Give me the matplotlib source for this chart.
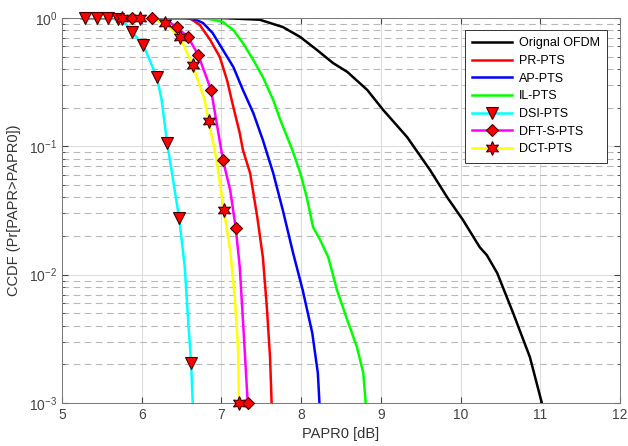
import matplotlib
matplotlib.use("Agg")
import matplotlib.pyplot as plt
from matplotlib.ticker import LogLocator, NullFormatter, FixedLocator
from matplotlib.lines import Line2D

plt.rcParams['font.family'] = ['Liberation Sans', 'DejaVu Sans']

# ---- data ----
orig_x = [5.25, 7.0, 7.48, 7.77, 7.99, 8.20, 8.40, 8.58, 8.83, 9.03, 9.33, 9.62, 9.83, 10.03, 10.24, 10.33, 10.46, 10.66, 10.87, 11.02]
orig_y = [1.0, 1.0, 0.97, 0.851, 0.711, 0.563, 0.446, 0.38, 0.275, 0.192, 0.118, 0.065, 0.0403, 0.0267, 0.0164, 0.0142, 0.0103, 0.00502, 0.00228, 0.001]

pr_x = [5.25, 6.5, 6.61, 6.73, 6.86, 6.98, 7.07, 7.15, 7.23, 7.27, 7.36, 7.45, 7.52, 7.57, 7.61, 7.63]
pr_y = [1.0, 1.0, 0.99, 0.882, 0.674, 0.497, 0.329, 0.202, 0.127, 0.0936, 0.0619, 0.0281, 0.0137, 0.00559, 0.00228, 0.001]

ap_x = [5.25, 6.55, 6.68, 6.77, 6.89, 7.02, 7.15, 7.27, 7.40, 7.52, 7.65, 7.77, 7.90, 8.02, 8.14, 8.21, 8.23]
ap_y = [1.0, 1.0, 0.97, 0.914, 0.764, 0.563, 0.415, 0.275, 0.182, 0.112, 0.0619, 0.0319, 0.0147, 0.00758, 0.00351, 0.00171, 0.001]

il_x = [5.25, 6.75, 6.9, 7.02, 7.15, 7.27, 7.40, 7.52, 7.65, 7.74, 7.89, 7.99, 8.07, 8.15, 8.24, 8.34, 8.45, 8.58, 8.70, 8.78, 8.81]
il_y = [1.0, 1.0, 0.97, 0.93, 0.806, 0.638, 0.471, 0.347, 0.23, 0.16, 0.0936, 0.0619, 0.0403, 0.0235, 0.0186, 0.0137, 0.00758, 0.00442, 0.00273, 0.00171, 0.001]

dsi_x = [5.25, 5.44, 5.58, 5.70, 5.80, 5.88, 6.02, 6.19, 6.25, 6.32, 6.47, 6.54, 6.58, 6.62, 6.64]
dsi_y = [1.0, 1.0, 1.0, 0.97, 0.9, 0.778, 0.616, 0.347, 0.23, 0.106, 0.0276, 0.0115, 0.00467, 0.00205, 0.001]
dsi_mx = [5.29, 5.44, 5.58, 5.70, 5.88, 6.02, 6.19, 6.32, 6.47, 6.62]
dsi_my = [1.0, 1.0, 1.0, 0.98, 0.778, 0.616, 0.347, 0.106, 0.0276, 0.00205]

dft_x = [5.25, 5.88, 6.13, 6.30, 6.44, 6.58, 6.71, 6.87, 7.02, 7.11, 7.18, 7.23, 7.28, 7.33]
dft_y = [1.0, 1.0, 1.0, 0.97, 0.851, 0.711, 0.515, 0.275, 0.078, 0.0456, 0.0231, 0.0115, 0.0035, 0.001]
dft_mx = [5.88, 6.13, 6.44, 6.58, 6.71, 6.87, 7.02, 7.18, 7.33]
dft_my = [1.0, 1.0, 0.851, 0.711, 0.515, 0.275, 0.078, 0.0231, 0.001]

dct_x = [5.25, 5.75, 5.98, 6.15, 6.29, 6.48, 6.64, 6.79, 6.84, 6.94, 7.03, 7.11, 7.17, 7.21, 7.22]
dct_y = [1.0, 1.0, 1.0, 0.97, 0.914, 0.711, 0.43, 0.23, 0.157, 0.078, 0.0319, 0.0155, 0.00634, 0.00258, 0.001]
dct_mx = [5.75, 5.98, 6.29, 6.48, 6.64, 6.84, 7.03, 7.22]
dct_my = [1.0, 1.0, 0.914, 0.711, 0.43, 0.157, 0.0319, 0.001]

labels = ['Orignal OFDM', 'PR-PTS', 'AP-PTS', 'IL-PTS', 'DSI-PTS', 'DFT-S-PTS', 'DCT-PTS']
xticks = [5, 6, 7, 8, 9, 10, 11, 12]

# ---- figure ----
fig = plt.figure(figsize=(6.28, 4.46), dpi=100)
ax = fig.add_axes([0.0987, 0.0964, 0.8885, 0.8632])
ax.set_yscale('log')
ax.set_xlim(5, 12)
ax.set_ylim(1e-3, 1.0)

lw = 1.8
ax.plot(orig_x, orig_y, color='black', lw=lw)
ax.plot(pr_x, pr_y, color='#ff0000', lw=lw)
ax.plot(ap_x, ap_y, color='#0000ff', lw=lw)
ax.plot(il_x, il_y, color='#00ff00', lw=lw)
ax.plot(dsi_x, dsi_y, color='#00ffff', lw=lw)
ax.plot(dft_x, dft_y, color='#ff00ff', lw=lw)
ax.plot(dct_x, dct_y, color='#ffff00', lw=lw)

mk = dict(markerfacecolor='#ff0000', markeredgecolor='#400000', markeredgewidth=0.8,
          linestyle='none', clip_on=False, zorder=5)
ax.plot(dsi_mx, dsi_my, marker='v', markersize=9, **mk)
ax.plot(dft_mx, dft_my, marker='D', markersize=6.5, **mk)
ax.plot(dct_mx, dct_my, marker=(6, 1, 0), markersize=10, **mk)

# legend
hk = dict(markerfacecolor='#ff0000', markeredgecolor='#400000', markeredgewidth=0.8)
handles = [
    Line2D([], [], color='black', lw=lw),
    Line2D([], [], color='#ff0000', lw=lw),
    Line2D([], [], color='#0000ff', lw=lw),
    Line2D([], [], color='#00ff00', lw=lw),
    Line2D([], [], color='#00ffff', lw=lw, marker='v', markersize=9, **hk),
    Line2D([], [], color='#ff00ff', lw=lw, marker='D', markersize=6.5, **hk),
    Line2D([], [], color='#ffff00', lw=lw, marker=(6, 1, 0), markersize=10, **hk),
]
leg = ax.legend(handles, labels, loc='upper right', bbox_to_anchor=(0.977, 0.969),
                borderaxespad=0, fontsize=9, handlelength=3.2, handletextpad=0.5,
                labelspacing=0.45, borderpad=0.6, frameon=True, fancybox=False, framealpha=1)
leg.get_frame().set_edgecolor('#333333')
leg.get_frame().set_linewidth(0.7)

# grid and ticks
ax.xaxis.set_major_locator(FixedLocator(xticks))
ax.yaxis.set_major_locator(LogLocator(base=10, numticks=10))
ax.yaxis.set_minor_locator(LogLocator(base=10, subs=range(2, 10), numticks=10))
ax.yaxis.set_minor_formatter(NullFormatter())
ax.grid(True, which='major', color='#dddddd', lw=0.8, ls='-')
ax.grid(True, which='minor', axis='y', color='#b8b8b8', lw=0.8, ls=(0, (6, 4)))
ax.set_axisbelow(True)
ax.tick_params(which='both', direction='in', top=True, right=True, colors='#444444', labelsize=10)
ax.tick_params(which='major', length=4)
ax.tick_params(which='minor', length=2)
for s in ax.spines.values():
    s.set_color('#777777')
    s.set_linewidth(0.7)

ax.set_xlabel('PAPR0 [dB]', fontsize=10.5, color='#333333', labelpad=4)
ax.set_ylabel('CCDF (Pr[PAPR>PAPR0])', fontsize=10.5, color='#333333', labelpad=6)

fig.savefig('out.png', dpi=100)
